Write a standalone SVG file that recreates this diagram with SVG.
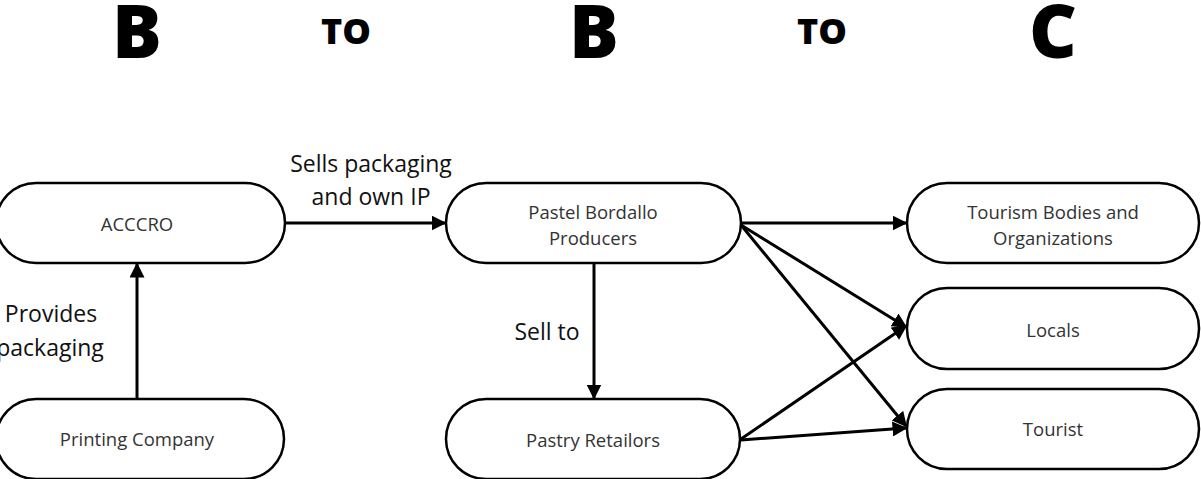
<svg xmlns="http://www.w3.org/2000/svg" width="1201" height="479" viewBox="0 0 1201 479">
<style>
.box{fill:#fff;stroke:#000;stroke-width:2.5}
.nt{font-family:"Open Sans","Liberation Sans",sans-serif;font-size:18.5px;fill:#333;text-anchor:middle;dominant-baseline:central}
.lb{font-family:"Open Sans","Liberation Sans",sans-serif;font-size:23px;fill:#111;text-anchor:middle;dominant-baseline:central}
.big{font-family:"Open Sans","Liberation Sans",sans-serif;font-weight:800;font-size:74px;fill:#000;text-anchor:middle}
.to{font-family:"Open Sans","Liberation Sans",sans-serif;font-weight:800;font-size:36px;fill:#000;text-anchor:middle}
.c{stroke:#000;stroke-width:3;fill:none;marker-end:url(#ah)}
</style>
<defs>
<marker id="ah" viewBox="0 0 10 10" refX="9" refY="5" markerWidth="5" markerHeight="5" orient="auto" markerUnits="strokeWidth">
<path d="M0,0 L10,5 L0,10 z" fill="#000"/>
</marker>
</defs>
<g id="headings">
<text class="big" x="137" y="58">B</text>
<text class="to" x="346" y="44">TO</text>
<text class="big" x="594" y="58">B</text>
<text class="to" x="822" y="44">TO</text>
<text class="big" x="1053" y="58">C</text>
</g>
<g id="connectors">
<line class="c" x1="285" y1="223" x2="445" y2="223"/>
<line class="c" x1="137" y1="399" x2="137" y2="264"/>
<line class="c" x1="594" y1="263" x2="594" y2="398"/>
<line class="c" x1="741" y1="223" x2="906" y2="223"/>
<line class="c" x1="741" y1="225" x2="906" y2="327"/>
<line class="c" x1="741" y1="225" x2="906" y2="426"/>
<line class="c" x1="741" y1="439" x2="906" y2="326"/>
<line class="c" x1="741" y1="440" x2="906" y2="428"/>
</g>
<g id="labels">
<text class="lb" x="371" y="163">Sells packaging</text>
<text class="lb" x="371" y="196">and own IP</text>
<text class="lb" x="51" y="313">Provides</text>
<text class="lb" x="50" y="347">packaging</text>
<text class="lb" x="547" y="331">Sell to</text>
</g>
<g id="acccro">
<rect class="box" x="-4" y="183" width="289" height="80" rx="40"/>
<text class="nt" x="137" y="223">ACCCRO</text>
</g>
<g id="printing">
<rect class="box" x="-4" y="399" width="288" height="80" rx="40"/>
<text class="nt" x="137" y="438">Printing Company</text>
</g>
<g id="pastel">
<rect class="box" x="446" y="183" width="295" height="80" rx="40"/>
<text class="nt" x="593" y="211">Pastel Bordallo</text>
<text class="nt" x="593" y="237">Producers</text>
</g>
<g id="retailors">
<rect class="box" x="446" y="399" width="294" height="80" rx="40"/>
<text class="nt" x="593" y="439">Pastry Retailors</text>
</g>
<g id="tourism">
<rect class="box" x="907" y="183" width="292" height="80" rx="40"/>
<text class="nt" x="1053" y="211">Tourism Bodies and</text>
<text class="nt" x="1053" y="237">Organizations</text>
</g>
<g id="locals">
<rect class="box" x="907" y="288" width="292" height="81" rx="40"/>
<text class="nt" x="1053" y="329">Locals</text>
</g>
<g id="tourist">
<rect class="box" x="907" y="389" width="292" height="80" rx="40"/>
<text class="nt" x="1053" y="428">Tourist</text>
</g>
</svg>
